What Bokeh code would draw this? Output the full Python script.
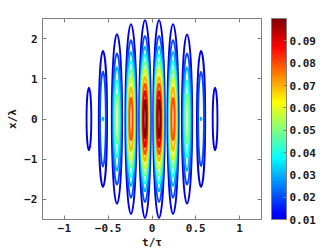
import numpy as np
from bokeh.plotting import figure
from bokeh.models import (LinearAxis, FixedTicker, ColorBar, LinearColorMapper,
                          ColumnDataSource)
from bokeh.embed import file_html
from bokeh.resources import INLINE

# ---------------- data ----------------
lobe_centers = [0.08, 0.24, 0.40, 0.56, 0.72]          # t/tau, mirrored to negative side
levels = [0.01, 0.02, 0.03, 0.04, 0.05, 0.06, 0.07, 0.08, 0.09, 0.10]

# contour half-heights (x/lambda) and half-widths (t/tau) per level, per lobe
half_h_1 = [2.46, 2.07, 1.80, 1.61, 1.42, 1.23, 1.05, 0.88, 0.70, 0.48]
half_w_1 = [0.066, 0.058, 0.052, 0.047, 0.042, 0.037, 0.032, 0.027, 0.021, 0.014]
half_h_2 = [2.36, 1.96, 1.67, 1.44, 1.22, 1.01, 0.79, 0.53]
half_w_2 = [0.064, 0.055, 0.048, 0.043, 0.037, 0.031, 0.025, 0.017]
half_h_3 = [2.11, 1.63, 1.29, 0.96, 0.62]
half_w_3 = [0.059, 0.048, 0.039, 0.030, 0.019]
half_h_4 = [1.69, 1.18, 0.03]
half_w_4 = [0.047, 0.033, 0.004]
half_h_5 = [0.78]
half_w_5 = [0.027]

x_ticks = [-1, -0.5, 0, 0.5, 1]
x_tick_labels = ["\u22121", "\u22120.5", "0", "0.5", "1"]
y_ticks = [-2, -1, 0, 1, 2]
y_tick_labels = ["\u22122", "\u22121", "0", "1", "2"]
cbar_ticks = [0.01, 0.02, 0.03, 0.04, 0.05, 0.06, 0.07, 0.08, 0.09]
cbar_low, cbar_high = 0.01, 0.10
clim_top = 0.10

# ---------------- styling helpers ----------------
def jet(t):
    r = min(max(1.5 - abs(4 * t - 3), 0), 1)
    g = min(max(1.5 - abs(4 * t - 2), 0), 1)
    b = min(max(1.5 - abs(4 * t - 1), 0), 1)
    return "#%02x%02x%02x" % (int(round(r * 255)), int(round(g * 255)), int(round(b * 255)))

FONT = "DejaVu Sans Mono"
GRAY = "#7f7f7f"
INK = "#1a1a1a"

half_hs = [half_h_1, half_h_2, half_h_3, half_h_4, half_h_5]
half_ws = [half_w_1, half_w_2, half_w_3, half_w_4, half_w_5]

rows = []
for c, hh, hw in zip(lobe_centers, half_hs, half_ws):
    for j in range(len(hh)):
        for s in (-1, 1):
            rows.append((levels[j], s * c, 0.0, 2 * hw[j], 2 * hh[j]))
rows.sort(key=lambda r: r[0])
src = ColumnDataSource(dict(
    x=[r[1] for r in rows], y=[r[2] for r in rows],
    w=[r[3] for r in rows], h=[r[4] for r in rows],
    color=[jet(r[0] / clim_top) for r in rows],
))

p = figure(frame_width=219, frame_height=201,
           x_range=(-1.25, 1.25), y_range=(-2.5, 2.5),
           output_backend="svg", toolbar_location=None,
           min_border_left=42, min_border_top=18, min_border_bottom=0,
           min_border_right=0)
p.grid.visible = False
p.outline_line_color = GRAY
p.background_fill_color = "white"

p.ellipse(x="x", y="y", width="w", height="h", source=src,
          fill_color=None, line_color="color", line_width=1.9)

def style_axis(ax, ticks, labels, show, size="11px"):
    ax.ticker = FixedTicker(ticks=ticks)
    ax.major_label_overrides = {t: l for t, l in zip(ticks, labels)}
    ax.axis_line_color = GRAY
    ax.major_tick_line_color = GRAY
    ax.major_tick_in = 4
    ax.major_tick_out = 0
    ax.minor_tick_line_color = None
    ax.major_label_text_font = FONT
    ax.major_label_text_font_style = "bold"
    ax.major_label_text_font_size = size
    ax.major_label_text_color = INK if show else None

style_axis(p.xaxis[0], x_ticks, x_tick_labels, True)
style_axis(p.yaxis[0], y_ticks, y_tick_labels, True)
p.xaxis.major_label_standoff = 4
p.yaxis.major_label_standoff = 5
p.xaxis.axis_label = "t/\u03c4"
p.yaxis.axis_label = "x/\u03bb"
for ax in (p.xaxis[0], p.yaxis[0]):
    ax.axis_label_text_font = FONT
    ax.axis_label_text_font_style = "bold"
    ax.axis_label_text_font_size = "11px"
    ax.axis_label_text_color = INK
p.xaxis.axis_label_standoff = 1
p.yaxis.axis_label_standoff = 2

# box ticks on top and right (labels hidden)
top_ax = LinearAxis()
style_axis(top_ax, x_ticks, x_tick_labels, False)
p.add_layout(top_ax, "above")
right_ax = LinearAxis()
style_axis(right_ax, y_ticks, y_tick_labels, False)
p.add_layout(right_ax, "right")

# invisible spacer axis: gap between the plot box and the colour bar
gap_ax = LinearAxis(ticker=FixedTicker(ticks=[0]), axis_line_color=None,
                    major_tick_line_color=None, minor_tick_line_color=None,
                    major_tick_in=0, major_tick_out=10, major_label_text_color=None,
                    major_label_standoff=0)
p.add_layout(gap_ax, "right")

palette = [jet(cbar_low / clim_top + (1 - cbar_low / clim_top) * i / 255) for i in range(256)]
mapper = LinearColorMapper(palette=palette, low=cbar_low, high=cbar_high)
cb = ColorBar(color_mapper=mapper, ticker=FixedTicker(ticks=cbar_ticks),
              width=15, height=201, margin=0, padding=0,
              bar_line_color=GRAY, major_tick_line_color=GRAY,
              major_tick_in=3, major_tick_out=0, minor_tick_line_color=None,
              label_standoff=3,
              major_label_text_font=FONT, major_label_text_font_style="bold",
              major_label_text_font_size="11px", major_label_text_color=INK,
              background_fill_color=None, border_line_color=None)
p.add_layout(cb, "right")

open("out.html", "w").write(file_html(p, INLINE))
